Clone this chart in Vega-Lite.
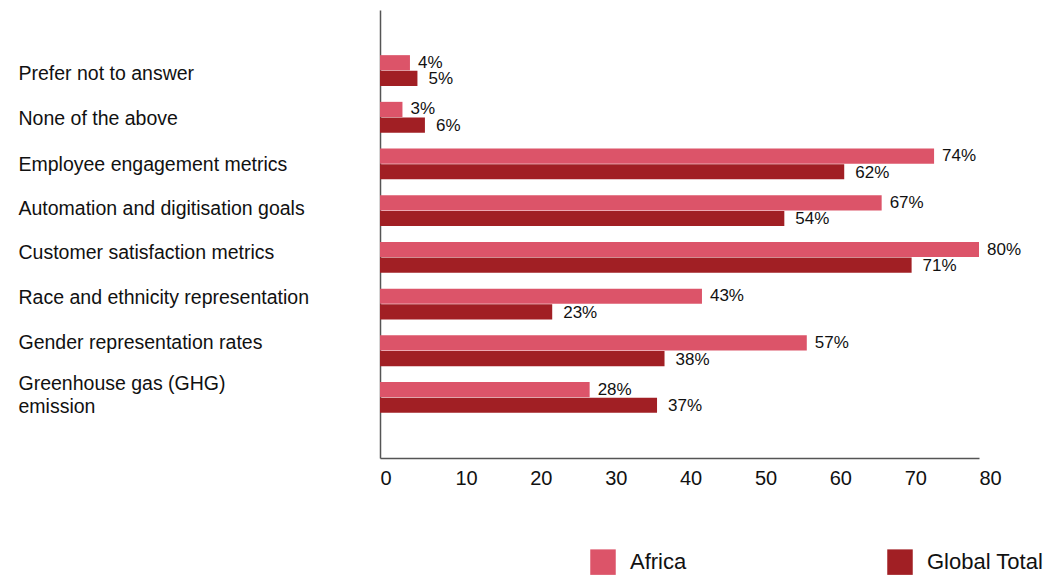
{
  "$schema": "https://vega.github.io/schema/vega-lite/v6.json",
  "width": 599,
  "height": 448,
  "autosize": {"type": "none"},
  "padding": {"left": 380, "top": 10, "right": 81, "bottom": 117},
  "background": "white",
  "config": {
    "view": {"stroke": null},
    "font": "Liberation Sans",
    "text": {"font": "Liberation Sans"}
  },
  "data": {
    "values": [
      {"category": "Prefer not to answer", "series": "Africa", "value": 4},
      {"category": "Prefer not to answer", "series": "Global Total", "value": 5},
      {"category": "None of the above", "series": "Africa", "value": 3},
      {"category": "None of the above", "series": "Global Total", "value": 6},
      {"category": "Employee engagement metrics", "series": "Africa", "value": 74},
      {"category": "Employee engagement metrics", "series": "Global Total", "value": 62},
      {"category": "Automation and digitisation goals", "series": "Africa", "value": 67},
      {"category": "Automation and digitisation goals", "series": "Global Total", "value": 54},
      {"category": "Customer satisfaction metrics", "series": "Africa", "value": 80},
      {"category": "Customer satisfaction metrics", "series": "Global Total", "value": 71},
      {"category": "Race and ethnicity representation", "series": "Africa", "value": 43},
      {"category": "Race and ethnicity representation", "series": "Global Total", "value": 23},
      {"category": "Gender representation rates", "series": "Africa", "value": 57},
      {"category": "Gender representation rates", "series": "Global Total", "value": 38},
      {"category": "Greenhouse gas (GHG) emission", "series": "Africa", "value": 28},
      {"category": "Greenhouse gas (GHG) emission", "series": "Global Total", "value": 37}
    ]
  },
  "transform": [{"calculate": "datum.value + '%'", "as": "label"}],
  "encoding": {
    "y": {
      "field": "category",
      "type": "nominal",
      "sort": null,
      "scale": {"paddingInner": 0.34, "paddingOuter": 0.967},
      "axis": {
        "title": null,
        "orient": "left",
        "ticks": false,
        "tickSize": 0,
        "labelAlign": "left",
        "labelPadding": 362,
        "labelFontSize": 19.5,
        "labelColor": "#111",
        "labelLimit": 400,
        "labelLineHeight": 23,
        "labelOffset": {
          "condition": [
            {"test": "datum.value == 'Prefer not to answer'", "value": 3},
            {"test": "datum.value == 'None of the above'", "value": 2},
            {"test": "datum.value == 'Employee engagement metrics'", "value": 1},
            {"test": "datum.value == 'Automation and digitisation goals'", "value": -2},
            {"test": "datum.value == 'Customer satisfaction metrics'", "value": -4},
            {"test": "datum.value == 'Race and ethnicity representation'", "value": -6},
            {"test": "datum.value == 'Gender representation rates'", "value": -8},
            {"test": "datum.value == 'Greenhouse gas (GHG) emission'", "value": -13}
          ],
          "value": 0
        },
        "labelExpr": "datum.value == 'Greenhouse gas (GHG) emission' ? ['Greenhouse gas (GHG)', 'emission'] : datum.value",
        "domainColor": "#555",
        "domainWidth": 1.5
      }
    },
    "yOffset": {
      "field": "series",
      "type": "nominal",
      "scale": {"paddingInner": 0.03}
    },
    "x": {
      "field": "value",
      "type": "quantitative",
      "scale": {"domain": [0, 80], "nice": false},
      "axis": {
        "title": null,
        "values": [0, 10, 20, 30, 40, 50, 60, 70, 80],
        "grid": false,
        "ticks": false,
        "tickSize": 0,
        "labelAlign": "left",
        "labelPadding": 10,
        "labelFontSize": 20,
        "labelColor": "#111",
        "labelOverlap": false,
        "labelFlush": false,
        "domainColor": "#555",
        "domainWidth": 1.5
      }
    }
  },
  "layer": [
    {
      "mark": {"type": "bar"},
      "encoding": {
        "color": {
          "field": "series",
          "type": "nominal",
          "scale": {"domain": ["Africa", "Global Total"], "range": ["#dc5469", "#a11f24"]},
          "legend": {
            "title": null,
            "orient": "none",
            "direction": "horizontal",
            "legendX": 210,
            "legendY": 539,
            "symbolType": "square",
            "symbolSize": 650,
            "symbolStrokeWidth": 0,
            "symbolOpacity": 1,
            "labelFontSize": 22,
            "labelColor": "#111",
            "labelOffset": 14,
            "columnPadding": 200
          }
        }
      }
    },
    {
      "transform": [{"filter": "datum.series == 'Africa'"}],
      "mark": {"type": "text", "align": "left", "baseline": "middle", "dx": 8, "dy": 0, "fontSize": 17, "color": "#111"},
      "encoding": {"text": {"field": "label"}}
    },
    {
      "transform": [{"filter": "datum.series == 'Global Total'"}],
      "mark": {"type": "text", "align": "left", "baseline": "middle", "dx": 11, "dy": 1, "fontSize": 17, "color": "#111"},
      "encoding": {"text": {"field": "label"}}
    }
  ]
}
